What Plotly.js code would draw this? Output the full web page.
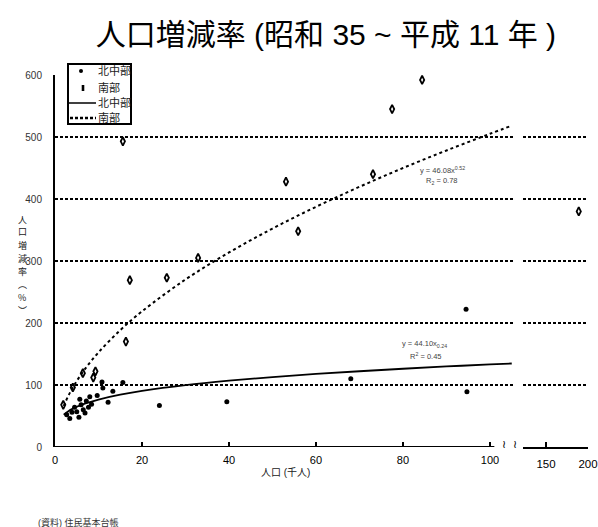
<!DOCTYPE html>
<html>
<head>
<meta charset="utf-8">
<script src="https://cdn.plot.ly/plotly-3.0.1.min.js"></script>
<style>html,body{margin:0;padding:0;background:#fff;}</style>
</head>
<body>
<div id="chart" style="width:598px;height:527px;"></div>
<script>
// ---- data ----
const northX = [2.7, 3.4, 3.9, 4.5, 5.0, 5.5, 6.0, 6.5, 5.7, 6.9, 7.2, 7.7, 8.0, 8.4, 9.7, 10.8, 11.0, 12.2, 13.3, 15.6, 24.0, 39.5, 68.0, 94.7, 94.5];
const northY = [52, 46, 56, 64, 57, 48, 68, 60, 77, 55, 74, 64, 81, 69, 83, 105, 95, 72, 90, 104, 67, 73, 110, 89, 222];
const southX = [1.9, 4.1, 6.4, 8.8, 9.3, 16.3, 17.2, 15.6, 25.7, 32.9, 53.1, 55.9, 73.1, 77.5, 84.4];
const southY = [68, 96, 119, 112, 122, 170, 269, 493, 273, 305, 428, 348, 440, 545, 592];
const southFarX = [189];
const southFarY = [380];
// trend lines as drawn
const trendX   = [2, 3, 4, 5, 7, 10, 15, 20, 30, 40, 50, 60, 70, 80, 90, 100, 105];
const northFit = [52.1, 57.4, 61.5, 64.9, 70.3, 76.6, 84.5, 90.5, 99.8, 106.9, 112.8, 117.8, 122.2, 126.2, 129.9, 133.2, 134.7];
const southFit = [66.1, 81.6, 94.7, 106.4, 126.8, 152.6, 188.4, 218.8, 270.2, 313.8, 352.3, 387.4, 419.7, 450.0, 478.3, 505.2, 518.3];
const xTicks1 = [0, 20, 40, 60, 80, 100];
const xTicks2 = [150, 200];
const yTicks = [0, 100, 200, 300, 400, 500, 600];
const seriesNames = ['北中部', '南部'];
const yTitleChars = ['人', '口', '増', '減', '率', '︵', '%', '︶'];

// ---- layout helpers (pixel -> paper) ----
const L = 55, R = 588, T = 75, B = 447;
const px = v => (v - L) / (R - L);
const py = v => (B - v) / (B - T);
const FONT = 'Liberation Sans, Arial, Noto Sans CJK JP, sans-serif';

const southMarker = {symbol: 'diamond-tall-open', size: 6, color: '#000', line: {width: 1.8, color: '#000'}};
const traces = [
  {x: trendX, y: northFit, mode: 'lines', line: {color: '#000', width: 1.8, shape: 'spline'}, hoverinfo: 'skip', xaxis: 'x', yaxis: 'y'},
  {x: trendX, y: southFit, mode: 'lines', line: {color: '#000', width: 2, dash: '3px,3px', shape: 'spline'}, hoverinfo: 'skip', xaxis: 'x', yaxis: 'y'},
  {x: northX, y: northY, mode: 'markers', name: seriesNames[0], marker: {symbol: 'circle', size: 5, color: '#000'}, xaxis: 'x', yaxis: 'y'},
  {x: southX, y: southY, mode: 'markers', name: seriesNames[1], marker: southMarker, xaxis: 'x', yaxis: 'y'},
  {x: southFarX, y: southFarY, mode: 'markers', name: seriesNames[1], marker: southMarker, xaxis: 'x2', yaxis: 'y'}
];

const gridDash = '3px,2px';
const annotations = [
  // legend labels
  {text: seriesNames[0], xref: 'paper', yref: 'paper', x: px(96), y: py(71), xanchor: 'left', yanchor: 'middle', showarrow: false, font: {size: 11, color: '#222'}},
  {text: seriesNames[1], xref: 'paper', yref: 'paper', x: px(96), y: py(88), xanchor: 'left', yanchor: 'middle', showarrow: false, font: {size: 11, color: '#222'}},
  {text: seriesNames[0], xref: 'paper', yref: 'paper', x: px(96), y: py(103), xanchor: 'left', yanchor: 'middle', showarrow: false, font: {size: 11, color: '#222'}},
  {text: seriesNames[1], xref: 'paper', yref: 'paper', x: px(96), y: py(118), xanchor: 'left', yanchor: 'middle', showarrow: false, font: {size: 11, color: '#222'}},
  // x title
  {text: '人口 (千人)', xref: 'paper', yref: 'paper', x: px(285), y: py(472), xanchor: 'center', yanchor: 'middle',
   showarrow: false, font: {size: 10, color: '#222'}},
  // trend equations
  {text: 'y = 46.08x<sup>0.52</sup>', xref: 'paper', yref: 'paper', x: px(418), y: py(170), xanchor: 'left', yanchor: 'middle',
   showarrow: false, font: {size: 7.5, color: '#444'}},
  {text: 'R<sub>2</sub> = 0.78', xref: 'paper', yref: 'paper', x: px(424), y: py(181), xanchor: 'left', yanchor: 'middle',
   showarrow: false, font: {size: 7.5, color: '#444'}},
  {text: 'y = 44.10x<sub>0.24</sub>', xref: 'paper', yref: 'paper', x: px(400), y: py(344), xanchor: 'left', yanchor: 'middle',
   showarrow: false, font: {size: 7.5, color: '#444'}},
  {text: 'R<sup>2</sup> = 0.45', xref: 'paper', yref: 'paper', x: px(408), y: py(356), xanchor: 'left', yanchor: 'middle',
   showarrow: false, font: {size: 7.5, color: '#444'}},
  // axis break marks
  {text: '≀', xref: 'paper', yref: 'paper', x: px(504), y: py(444), xanchor: 'center', yanchor: 'middle', showarrow: false, font: {size: 11, family: 'DejaVu Sans', color: '#000'}},
  {text: '≀', xref: 'paper', yref: 'paper', x: px(515), y: py(444), xanchor: 'center', yanchor: 'middle', showarrow: false, font: {size: 11, family: 'DejaVu Sans', color: '#000'}},
  // source
  {text: '(資料) 住民基本台帳', xref: 'paper', yref: 'paper', x: px(36), y: py(522), xanchor: 'left', yanchor: 'middle',
   showarrow: false, font: {size: 9, color: '#333'}}
];
// vertical y title, one character per line
yTitleChars.forEach((c, i) => {
  annotations.push({text: c, xref: 'paper', yref: 'paper', x: px(22), y: py(219 + i * 13), xanchor: 'center', yanchor: 'middle',
    showarrow: false, font: {size: 9, color: '#222', family: 'Noto Sans CJK JP, sans-serif'}});
});

const layout = {
  width: 598, height: 527,
  margin: {l: L, r: 598 - R, t: T, b: 527 - B},
  paper_bgcolor: '#fff', plot_bgcolor: '#fff',
  showlegend: false,
  font: {family: FONT, color: '#000'},
  title: {text: '人口増減率 (昭和 35 ~ 平成 11 年 )', font: {size: 30, family: FONT, color: '#000'},
          x: 0.545, xref: 'container', xanchor: 'center', y: 1 - 34 / 527, yref: 'container', yanchor: 'middle'},
  xaxis: {domain: [0, px(515)], range: [0, 105.75], showline: false, showgrid: false, zeroline: false,
          tickvals: xTicks1, ticks: 'inside', ticklen: 5, tickwidth: 1.5, tickcolor: '#000',
          tickfont: {size: 11, color: '#000'}, ticklabelstandoff: 5},
  xaxis2: {domain: [px(523), 1], range: [122.6, 200], anchor: 'y', showline: true, linewidth: 2, linecolor: '#000',
           showgrid: false, zeroline: false, tickvals: xTicks2, ticks: 'inside', ticklen: 5, tickwidth: 1.5, tickcolor: '#000',
           tickfont: {size: 11.5, color: '#000'}, ticklabelstandoff: 5},
  yaxis: {range: [0, 600], tickvals: yTicks, showline: true, linewidth: 2, linecolor: '#000',
          showgrid: true, gridcolor: '#000', gridwidth: 2.5, griddash: gridDash, zeroline: false, ticks: '',
          tickfont: {size: 10, color: '#333'}, ticklabelstandoff: 9},
  shapes: [
    // first x-axis segment line
    {type: 'line', xref: 'x', yref: 'y', x0: 0, x1: 101, y0: 0, y1: 0, line: {color: '#000', width: 2}, layer: 'above'},
    // legend box
    {type: 'rect', xref: 'paper', yref: 'paper', x0: px(68), x1: px(131), y0: py(124), y1: py(64),
     fillcolor: '#fff', line: {color: '#000', width: 2}, layer: 'above'},
    // legend symbols
    {type: 'circle', xref: 'paper', yref: 'paper', xsizemode: 'pixel', ysizemode: 'pixel', xanchor: px(81), yanchor: py(71),
     x0: -2, x1: 2, y0: -2, y1: 2, fillcolor: '#000', line: {width: 0}, layer: 'above'},
    {type: 'rect', xref: 'paper', yref: 'paper', xsizemode: 'pixel', ysizemode: 'pixel', xanchor: px(83), yanchor: py(88),
     x0: -1.3, x1: 1.3, y0: -3, y1: 3, fillcolor: '#000', line: {width: 0}, layer: 'above'},
    {type: 'line', xref: 'paper', yref: 'paper', x0: px(68), x1: px(96), y0: py(103), y1: py(103), line: {color: '#000', width: 1.5}, layer: 'above'},
    {type: 'line', xref: 'paper', yref: 'paper', x0: px(70), x1: px(96), y0: py(118), y1: py(118), line: {color: '#000', width: 2.5, dash: gridDash}, layer: 'above'}
  ],
  annotations: annotations
};

Plotly.newPlot('chart', traces, layout, {staticPlot: true, displayModeBar: false});
</script>
</body>
</html>
